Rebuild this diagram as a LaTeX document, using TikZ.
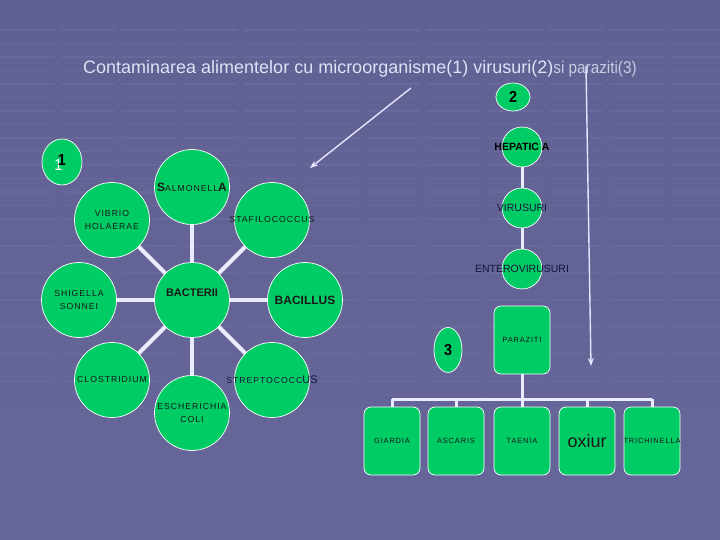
\documentclass[tikz,border=0pt]{standalone}
\usepackage{fontspec}
\setmainfont{Liberation Sans}
\newfontfamily\spacedfont[LetterSpace=11]{Liberation Sans}
\newfontfamily\narrowfont[FakeStretch=0.9]{Liberation Sans}
\usetikzlibrary{shapes.geometric, arrows.meta}
\definecolor{bgplain}{RGB}{102,102,154}
\definecolor{bgtop}{RGB}{96,96,146}
\definecolor{bggrid}{RGB}{74,74,114}
\definecolor{gridrow}{RGB}{104,104,156}
\definecolor{leaf}{RGB}{0,204,102}
\definecolor{titletext}{RGB}{222,226,246}
\definecolor{navy}{RGB}{22,22,60}

\begin{document}
\begin{tikzpicture}[x=1pt, y=-1pt,
    bubble/.style={circle, draw=white, line width=0.7pt, fill=leaf, minimum size=75pt, inner sep=0pt, align=center, text=black!90, font=\spacedfont\fontsize{8.7}{12.5}\selectfont},
    virbubble/.style={bubble, minimum size=40pt, text=navy, font=\fontsize{10.5}{12}\selectfont},
    tag/.style={ellipse, draw=white, line width=0.7pt, fill=leaf, inner sep=0pt, text=black, font=\narrowfont\bfseries\fontsize{16}{16}\selectfont},
    card/.style={rectangle, rounded corners=7pt, draw=white, line width=0.7pt, fill=leaf, minimum width=56pt, minimum height=68pt, inner sep=0pt, text=black!90, font=\spacedfont\fontsize{7.5}{9}\selectfont},
    spoke/.style={draw=white!92!blue, line width=4pt},
    stem/.style={draw=white!92!blue, line width=3pt},
    pointer/.style={draw=white!90!blue, line width=1.4pt, -{Stealth[length=8pt, width=6pt]}}
]
    \useasboundingbox (0,0) rectangle (720,540);
    % Background
    \shade[top color=bgtop, middle color=bggrid, bottom color=bgplain] (-5,-5) rectangle (725,545);
    \foreach \y in {30,43.5,...,410}
        \draw[gridrow, line width=1.3pt, dash pattern=on 54pt off 7pt] (0,\y) -- (720,\y);

    % Title
    \node[anchor=base west, inner sep=0pt, text=titletext, font=\fontsize{18}{18}\selectfont] (title) at (83,74)
        {Contaminarea alimentelor cu microorganisme(1) virusuri(2){\color{titletext!85!bggrid}\narrowfont\fontsize{17}{17}\selectfont si paraziti(3)}};

    % Bacteria
    \node[bubble, text depth=14pt, font=\bfseries\fontsize{11}{12}\selectfont] (bac) at (192,300) {BACTERII};
    \node[bubble] (sal) at (192,187) {\makebox[0pt]{{\bfseries\fontsize{12}{12}\selectfont S}ALMONELL{\bfseries\fontsize{12}{12}\selectfont A}}};
    \node[bubble] (vib) at (112,220) {VIBRIO\\HOLAERAE};
    \node[bubble] (sta) at (272,220) {\makebox[0pt]{STAFILOCOCCUS}};
    \node[bubble] (shi) at (79,300) {SHIGELLA\\SONNEI};
    \node[bubble, font=\bfseries\fontsize{12}{12}\selectfont] (bacil) at (305,300) {BACILLUS};
    \node[bubble] (clo) at (112,380) {\makebox[0pt]{CLOSTRIDIUM}};
    \node[bubble] (esc) at (192,413) {ESCHERICHIA\\COLI};
    \node[bubble, text=navy] (str) at (272,380) {\makebox[0pt]{STREPTOCOCC{\normalfont\fontsize{11}{12}\selectfont US}}};
    \foreach \n in {sal,vib,sta,shi,bacil,clo,esc,str}
        \draw[spoke] (bac) -- (\n);

    % Viruses
    \node[virbubble, text=black, font=\bfseries\fontsize{10.5}{12}\selectfont] (hep) at (522,147) {\makebox[0pt]{HEPATIC A}};
    \node[virbubble] (vir) at (522,208) {\makebox[0pt]{VIRUSURI}};
    \node[virbubble] (ent) at (522,269) {\makebox[0pt]{ENTEROVIRUSURI}};
    \draw[stem] (hep) -- (vir);
    \draw[stem] (vir) -- (ent);

    % Parasites
    \node[card] (par) at (522,340) {PARAZITI};
    \node[card] (gia) at (392,441) {GIARDIA};
    \node[card] (asc) at (456,441) {ASCARIS};
    \node[card] (tae) at (522,441) {TAENIA};
    \node[card, font=\fontsize{18}{18}\selectfont] (oxi) at (587,441) {oxiur};
    \node[card] (tri) at (652,441) {\makebox[0pt]{TRICHINELLA}};
    \coordinate (bus) at (522,399);
    \draw[stem] (par) -- (bus);
    \draw[stem] (bus -| gia) -- (bus -| tri);
    \foreach \n in {gia,asc,tae,oxi,tri}
        \draw[stem] (bus -| \n) -- (\n);

    % Group numbers
    \node[tag, minimum width=40pt, minimum height=46pt] (num1) at (62,162)
        {\rlap{\kern-3.5pt\raisebox{-5pt}{\color{white}\mdseries 1}}1};
    \node[tag, minimum width=34pt, minimum height=28pt] (num2) at (513,97) {2};
    \node[tag, minimum width=28pt, minimum height=45pt] (num3) at (448,350) {3};

    % Arrows
    \coordinate (a1) at (411,88);
    \coordinate (a1end) at (310,168);
    \draw[pointer] (a1) -- (a1end);
    \coordinate (a2) at (586,66);
    \coordinate (a2end) at (591,366);
    \draw[pointer] (a2) -- (a2end);
\end{tikzpicture}
\end{document}
